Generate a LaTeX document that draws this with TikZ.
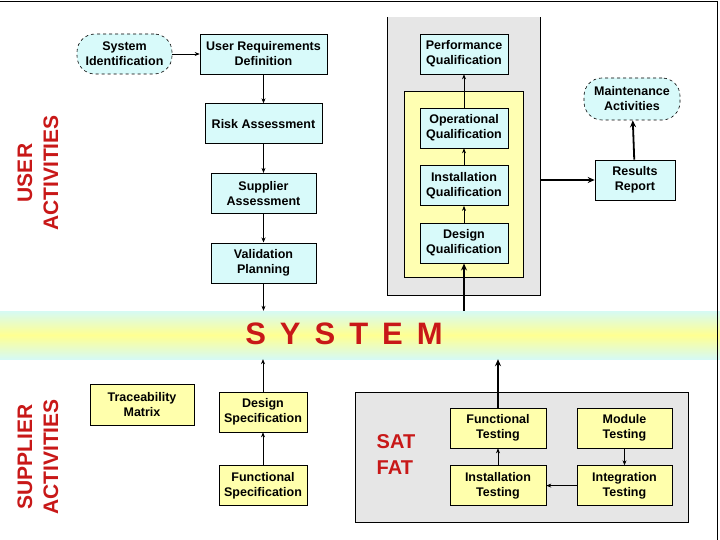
\documentclass[tikz,border=0pt]{standalone}
\usepackage{fontspec}
\setmainfont{Liberation Sans}
\usepackage{tikz}
\usetikzlibrary{positioning,calc,arrows.meta}

\definecolor{boxcyan}{RGB}{216,250,250}
\definecolor{boxyellow}{RGB}{255,255,172}
\definecolor{paneltint}{RGB}{255,255,178}
\definecolor{panelgray}{RGB}{230,230,230}
\definecolor{actred}{RGB}{200,24,24}
\definecolor{bandcyan}{RGB}{214,250,244}
\definecolor{bandyellow}{RGB}{255,255,146}
\newcommand{\bandgap}{\hspace{14pt}}

\begin{document}
\begin{tikzpicture}[x=1pt,y=-1pt, node distance=29pt,
  box/.style={rectangle,draw,line width=0.6pt,minimum width=88pt,minimum height=40pt,align=center,inner sep=1pt,font=\fontsize{12.5}{15}\selectfont\bfseries},
  cbox/.style={box,fill=boxcyan},
  ybox/.style={box,fill=boxyellow},
  oval/.style={box,dashed,rounded corners=18pt,fill=boxcyan},
  arrow/.style={-{Stealth[length=5pt,width=4pt]},line width=0.6pt},
  bigarrow/.style={-{Stealth[length=7pt,width=6pt]},line width=1.8pt},
  side/.style={text=actred,font=\fontsize{21}{26}\selectfont\bfseries,align=center,rotate=90}]
\useasboundingbox (0,0) rectangle (720,540);
% backgrounds
\node[fill=panelgray,minimum width=152pt,minimum height=278pt,inner sep=0] (qualarea) at (464,156) {};
\draw[line width=0.8pt] (qualarea.north west) -- (qualarea.south west) -- (qualarea.south east) -- (qualarea.north east);
\node[draw,line width=0.8pt,fill=paneltint,minimum width=119pt,minimum height=186pt,inner sep=0] (qualtint) at (463.5,184) {};
\node[minimum width=720pt,minimum height=48pt,inner sep=0,top color=bandcyan,bottom color=bandcyan,middle color=bandyellow] (band) at (360,335) {};
\node[text=actred,font=\fontsize{31}{31}\selectfont\bfseries] (system) at (344,334) {S\bandgap Y\bandgap S\bandgap T\bandgap E\bandgap M};
\node[draw,line width=0.8pt,fill=panelgray,minimum width=333pt,minimum height=130pt,inner sep=0] (testarea) at (521.5,457) {};
\draw[line width=0.8pt] (0,1) -- (717,1) -- (717,540);
% side labels
\node[side] (user) at (38,173) {USER\\ACTIVITIES};
\node[side] (supplier) at (38,457) {SUPPLIER\\ACTIVITIES};
% user activities
\node[oval,minimum width=95pt] (sysid) at (124.5,54) {System\\Identification};
\node[cbox,minimum width=127pt] (urd) at (263.5,54) {User Requirements\\Definition};
\node[cbox,minimum width=117pt,below=of urd] (risk) {Risk Assessment};
\node[cbox,minimum width=105pt,below=of risk] (supp) {Supplier\\Assessment};
\node[cbox,minimum width=105pt,below=of supp] (valid) {Validation\\Planning};
\draw[arrow] (sysid) -- (urd); \draw[arrow] (urd) -- (risk); \draw[arrow] (risk) -- (supp); \draw[arrow] (supp) -- (valid);
\draw[arrow] (valid) -- (valid.south |- band.north);
% qualification
\node[cbox] (perf) at (464,54) {Performance\\Qualification};
\node[cbox] (oq) at (464,128) {Operational\\Qualification};
\node[cbox,below=17pt of oq] (iq) {Installation\\Qualification};
\node[cbox,below=17pt of iq] (dq) {Design\\Qualification};
\draw[bigarrow] (dq.south |- band.north) -- (dq);
\draw[arrow] (dq) -- (iq); \draw[arrow] (iq) -- (oq); \draw[arrow] (oq) -- (perf);
\node[cbox,minimum width=80pt] (results) at (635,180) {Results\\Report};
\node[oval,minimum width=96pt,minimum height=42pt] (maint) at (632,99) {Maintenance\\Activities};
\draw[bigarrow] (qualarea.east |- results) -- (results);
\draw[bigarrow] (results) -- (maint);
% supplier activities
\node[ybox,minimum width=104pt,minimum height=41pt] (trace) at (142,404.5) {Traceability\\Matrix};
\node[ybox] (dspec) at (263,412) {Design\\Specification};
\node[ybox,below=33pt of dspec] (fspec) {Functional\\Specification};
\draw[arrow] (fspec) -- (dspec); \draw[arrow] (dspec) -- (dspec.north |- band.south);
\node[text=actred,font=\fontsize{20}{26}\selectfont\bfseries,align=left] (satfat) at (396,455) {SAT\\FAT};
\node[ybox,minimum width=96pt] (ftest) at (498,428) {Functional\\Testing};
\node[ybox,minimum width=96pt,below=17pt of ftest] (itest) {Installation\\Testing};
\node[ybox,minimum width=95pt] (mtest) at (624.5,428) {Module\\Testing};
\node[ybox,minimum width=95pt,below=17pt of mtest] (integ) {Integration\\Testing};
\draw[bigarrow] (ftest) -- (ftest.north |- band.south);
\draw[arrow] (itest) -- (ftest); \draw[arrow] (mtest) -- (integ); \draw[arrow] (integ) -- (itest);
\end{tikzpicture}
\end{document}
